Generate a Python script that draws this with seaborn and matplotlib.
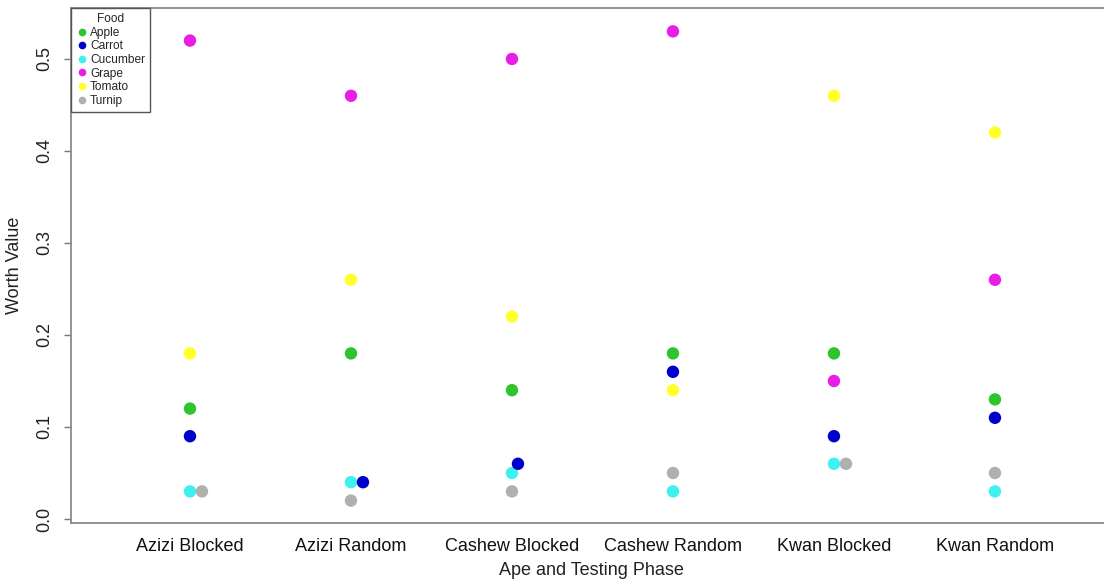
import numpy as np
import pandas as pd
import matplotlib
matplotlib.use("Agg")
import matplotlib.pyplot as plt
import seaborn as sns

phases = ["Azizi Blocked", "Azizi Random", "Cashew Blocked",
          "Cashew Random", "Kwan Blocked", "Kwan Random"]
foods = ["Apple", "Carrot", "Cucumber", "Grape", "Tomato", "Turnip"]

apple = [0.12, 0.18, 0.14, 0.18, 0.18, 0.13]
carrot = [0.09, 0.04, 0.06, 0.16, 0.09, 0.11]
cucumber = [0.03, 0.04, 0.05, 0.03, 0.06, 0.03]
grape = [0.52, 0.46, 0.50, 0.53, 0.15, 0.26]
tomato = [0.18, 0.26, 0.22, 0.14, 0.46, 0.42]
turnip = [0.03, 0.02, 0.03, 0.05, 0.06, 0.05]

food_colors = {"Apple": "#2ec42e", "Carrot": "#0000cc", "Cucumber": "#3ef0f0",
               "Grape": "#e61ee6", "Tomato": "#ffff2a", "Turnip": "#b0b0b0"}

values = {"Apple": apple, "Carrot": carrot, "Cucumber": cucumber,
          "Grape": grape, "Tomato": tomato, "Turnip": turnip}

rows = []
for f in foods:
    for i, p in enumerate(phases):
        rows.append({"Phase": p, "pos": i, "Food": f, "Worth": values[f][i]})
df = pd.DataFrame(rows)

# Stack near-coincident points sideways so none are hidden
step = 0.0745
stack_order = ["Cucumber", "Apple", "Carrot", "Grape", "Tomato", "Turnip"]
df["order"] = df["Food"].map({f: k for k, f in enumerate(stack_order)})
df = df.sort_values(["pos", "order"]).reset_index(drop=True)
df["xpos"] = df["pos"].astype(float)
for p, grp in df.groupby("pos"):
    placed = []
    for idx, r in grp.iterrows():
        shift = 0.0
        for y0, s0 in placed:
            overlap = max(0.0, 1.0 - abs(r["Worth"] - y0) / 0.02)
            if overlap > 0:
                shift = max(shift, s0 + step * overlap)
        df.loc[idx, "xpos"] = p + shift
        placed.append((r["Worth"], shift))

sns.set_theme(style="white")
plt.rcParams["font.family"] = ["Liberation Sans", "DejaVu Sans"]

fig = plt.figure(figsize=(11.04, 5.83), dpi=100)
ax = fig.add_axes([71 / 1104, 1 - 523 / 583, (1112 - 71) / 1104, (523 - 8) / 583])

sns.scatterplot(data=df, x="xpos", y="Worth", hue="Food", hue_order=foods,
                palette=food_colors, s=80, linewidth=0, ax=ax, legend=False)

ax.set_xlim(-0.739, 5.727)
ax.set_ylim(-0.00435, 0.5554)
ax.set_xticks(range(len(phases)))
ax.set_xticklabels(phases)
ax.set_yticks([0.0, 0.1, 0.2, 0.3, 0.4, 0.5])
ax.set_yticklabels(["0.0", "0.1", "0.2", "0.3", "0.4", "0.5"],
                   rotation=90, va="center")
ax.tick_params(axis="x", length=0, pad=11, labelsize=13, colors="#111111")
ax.tick_params(axis="y", length=5, width=1, color="#777777", pad=8,
               labelsize=13, labelcolor="#222222", left=True)
ax.set_xlabel("Ape and Testing Phase", fontsize=13, color="#222222", labelpad=5)
ax.set_ylabel("Worth Value", fontsize=13, color="#222222", labelpad=9)

for sp in ax.spines.values():
    sp.set_color("#8a8a8a")
    sp.set_linewidth(1.3)

handles = [plt.Line2D([], [], marker="o", linestyle="", markersize=5.5,
                      markerfacecolor=food_colors[f], markeredgewidth=0,
                      label=f) for f in foods]
leg = ax.legend(handles=handles, title="Food", loc="upper left",
                bbox_to_anchor=(0, 1), borderaxespad=0, fontsize=8.6,
                title_fontsize=8.6, frameon=True, fancybox=False,
                handletextpad=0.15, handlelength=1.0, labelspacing=0.13,
                borderpad=0.45)
leg.get_frame().set_edgecolor("#555555")
leg.get_frame().set_linewidth(1.0)
leg.get_frame().set_alpha(1)

fig.savefig("out.png", dpi=100)
